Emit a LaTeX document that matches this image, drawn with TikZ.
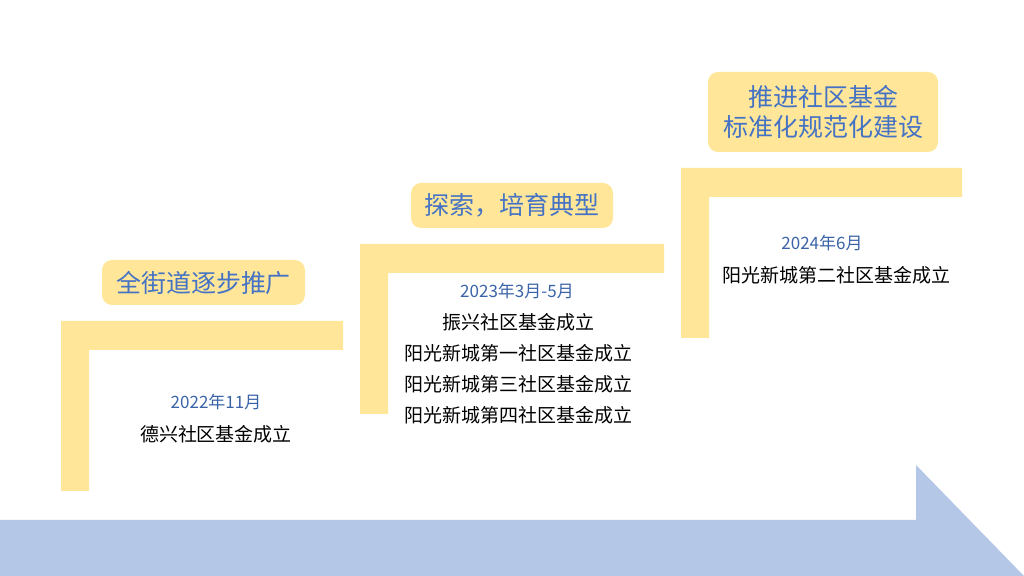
\documentclass[tikz,border=0pt]{standalone}
\usepackage{fontspec}
\setmainfont{Noto Sans CJK SC}
\usetikzlibrary{positioning}
\definecolor{stepyellow}{HTML}{FFE699}
\definecolor{arrowblue}{HTML}{B4C7E7}
\definecolor{titleblue}{HTML}{4472C4}
\definecolor{dateblue}{HTML}{3A63A8}
\tikzset{titlebox/.style={fill=stepyellow, rounded corners=5pt, text=titleblue, font=\fontsize{12.5}{15}\selectfont, align=center, inner sep=0pt},
datetext/.style={text=dateblue, font=\fontsize{8.5}{10}\selectfont, inner sep=0pt},
itemtext/.style={font=\fontsize{9.5}{15.5}\selectfont, align=center, inner sep=0pt},}

\begin{document}
\begin{tikzpicture}[x=0.5pt, y=-0.5pt]
\useasboundingbox (0,0) rectangle (1024,576);
\fill[arrowblue] (0,520) -- (916,520) -- (916,465) -- (1024,576) -- (0,576) -- cycle;
\foreach \x/\y/\w in {61/321/282, 360/244/304, 681/168/281}
  \fill[stepyellow] (\x,\y) -- ++(\w,0) -- ++(0,29) -- (\x+28,\y+29) -- (\x+28,\y+170) -- (\x,\y+170) -- cycle;
\node [titlebox, minimum width=101.5pt, minimum height=22.5pt] (goal1) at (203.5,282.5) {全街道逐步推广};
\node [titlebox, minimum width=101pt, minimum height=22.5pt] (goal2) at (512,205.5) {探索，培育典型};
\node [titlebox, minimum width=115pt, minimum height=40pt] (goal3) at (823,112) {推进社区基金\\标准化规范化建设};
\node [datetext] (date1) at (216,402) {2022年11月};
\node [itemtext] (item1) at (216,434) {德兴社区基金成立};
\node [datetext] (date2) at (517,291) {2023年3月-5月};
\node [itemtext] (item2) at (518,368.5) {振兴社区基金成立\\阳光新城第一社区基金成立\\阳光新城第三社区基金成立\\阳光新城第四社区基金成立};
\node [datetext] (date3) at (822,243) {2024年6月};
\node [itemtext] (item3) at (836,275) {阳光新城第二社区基金成立};
\end{tikzpicture}
\end{document}
